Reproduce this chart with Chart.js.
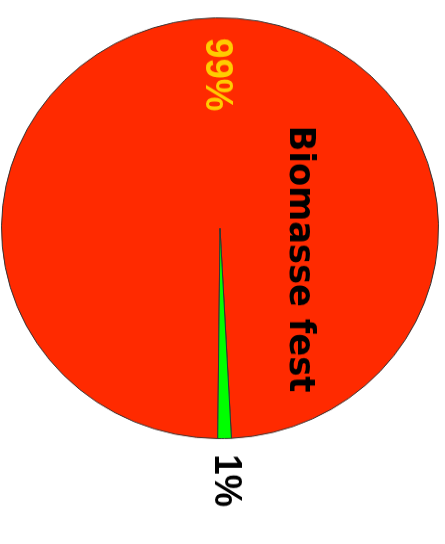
<!DOCTYPE html>
<html>
<head>
<meta charset="utf-8">
<script src="https://cdn.jsdelivr.net/npm/chart.js@4"></script>
<style>
  html, body { margin: 0; padding: 0; background: #fff; overflow: hidden; }
  #wrap {
    position: absolute; left: 0; top: 0;
    width: 565px; height: 445px;
    transform-origin: 0 0;
    /* chart is drawn upright, then turned a quarter clockwise and squeezed a bit */
    transform: translateX(445px) rotate(90deg) scaleX(0.963);
  }
</style>
</head>
<body>
<div id="wrap"><canvas id="pie" width="565" height="445"></canvas></div>
<script>
// ── data ──────────────────────────────────────────────────────────────────────
const categories  = ['Biomasse fest', 'Sonstige'];
const shares      = [99, 1];
const sliceColors = ['#FF2A00', '#00FF00'];
const pctColors   = ['#FFCC00', '#000000'];
const pctRadius   = [0.73, 1.2];   // label distance as fraction of radius

const sliceLabels = {
  id: 'sliceLabels',
  afterDatasetsDraw(chart) {
    const { ctx } = chart;
    const meta  = chart.getDatasetMeta(0);
    const total = shares.reduce((a, b) => a + b, 0);
    ctx.save();
    ctx.textAlign = 'center';
    ctx.textBaseline = 'middle';
    meta.data.forEach((arc, i) => {
      const mid = (arc.startAngle + arc.endAngle) / 2;
      const r   = arc.outerRadius * pctRadius[i];
      ctx.font = 'bold 38px "Liberation Sans", Arial, sans-serif';
      ctx.fillStyle = pctColors[i];
      ctx.fillText(Math.round(shares[i] / total * 100) + '%',
                   arc.x + Math.cos(mid) * r, arc.y + Math.sin(mid) * r);
    });
    // name of the big slice
    const a = meta.data[0];
    ctx.font = 'bold 35px "DejaVu Sans", sans-serif';
    ctx.fillStyle = '#000';
    ctx.fillText(categories[0], a.x + 32, a.y - 79);
    ctx.restore();
  }
};

new Chart(document.getElementById('pie'), {
  type: 'pie',
  data: {
    labels: categories,
    datasets: [{
      data: shares,
      backgroundColor: sliceColors,
      borderColor: '#333',
      borderWidth: 1
    }]
  },
  options: {
    responsive: false,
    animation: false,
    rotation: 90.6,
    layout: { padding: { left: 18, right: 109, top: 6, bottom: 1 } },
    plugins: { legend: { display: false }, tooltip: { enabled: false } }
  },
  plugins: [sliceLabels]
});
</script>
</body>
</html>
